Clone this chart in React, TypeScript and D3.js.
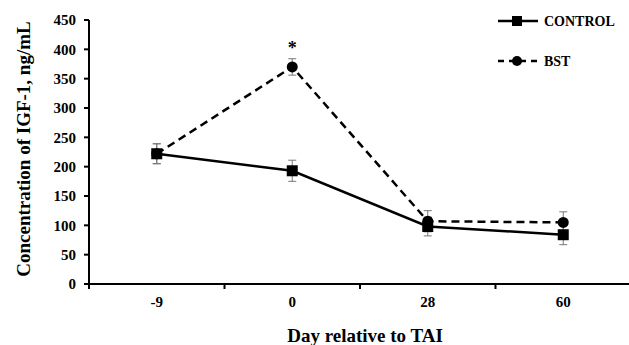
import React from "react";
import * as d3 from "d3";

const days = ["-9", "0", "28", "60"];
const controlMean = [222, 193, 98, 84];
const controlSe = [17, 18, 16, 17];
const bstMean = [222, 370, 107, 105];
const bstSe = [17, 14, 18, 18];
const yTicks = [0, 50, 100, 150, 200, 250, 300, 350, 400, 450];

const width = 629;
const height = 345;
const margin = { top: 20, right: -2, bottom: 61, left: 89 };
const font = "'Liberation Serif', 'Times New Roman', serif";

const x = d3
  .scaleBand()
  .domain(days)
  .range([margin.left, width - margin.right]);

const y = d3
  .scaleLinear()
  .domain([0, 450])
  .range([height - margin.bottom, margin.top]);

const cx = (d: string) => (x(d) ?? 0) + x.bandwidth() / 2;

const line = d3
  .line<number>()
  .x((_, i) => cx(days[i]))
  .y((v) => y(v));

function ErrorBars({ mean, se }: { mean: number[]; se: number[] }) {
  return (
    <g stroke="#777" strokeWidth={1}>
      {mean.map((m, i) => {
        const px = cx(days[i]);
        return (
          <g key={i}>
            <line x1={px} x2={px} y1={y(m - se[i])} y2={y(m + se[i])} />
            <line x1={px - 4} x2={px + 4} y1={y(m - se[i])} y2={y(m - se[i])} />
            <line x1={px - 4} x2={px + 4} y1={y(m + se[i])} y2={y(m + se[i])} />
          </g>
        );
      })}
    </g>
  );
}

export default function App() {
  const y0 = y(0);
  return (
    <svg
      width={width}
      height={height}
      style={{ position: "absolute", left: 0, top: 0, background: "#fff" }}
      fontFamily={font}
      fontWeight="bold"
    >
      {/* y axis */}
      <line x1={margin.left} x2={margin.left} y1={y(450)} y2={y0} stroke="#000" strokeWidth={2} />
      {yTicks.map((t) => (
        <g key={t}>
          <line x1={margin.left - 5} x2={margin.left} y1={y(t)} y2={y(t)} stroke="#000" strokeWidth={2} />
          <text x={margin.left - 13} y={y(t)} dy="0.35em" textAnchor="end" fontSize={15}>
            {t}
          </text>
        </g>
      ))}
      {/* x axis */}
      <line x1={margin.left - 5} x2={width} y1={y0} y2={y0} stroke="#000" strokeWidth={2} />
      {days.map((d) => (
        <g key={d}>
          <line x1={(x(d) ?? 0) + x.bandwidth()} x2={(x(d) ?? 0) + x.bandwidth()} y1={y0} y2={y0 + 5} stroke="#000" strokeWidth={2} />
          <text x={cx(d)} y={y0 + 23} textAnchor="middle" fontSize={15}>
            {d}
          </text>
        </g>
      ))}
      <line x1={margin.left} x2={margin.left} y1={y0} y2={y0 + 5} stroke="#000" strokeWidth={2} />

      <text x={365} y={342} textAnchor="middle" fontSize={19}>
        Day relative to TAI
      </text>
      <text transform={`translate(30,149) rotate(-90)`} textAnchor="middle" fontSize={19}>
        Concentration of IGF-1, ng/mL
      </text>

      <ErrorBars mean={controlMean} se={controlSe} />
      <ErrorBars mean={bstMean} se={bstSe} />

      <path d={line(bstMean) ?? ""} fill="none" stroke="#000" strokeWidth={2.5} strokeDasharray="8,5" />
      <path d={line(controlMean) ?? ""} fill="none" stroke="#000" strokeWidth={2.5} />

      {bstMean.map((v, i) => (
        <circle key={i} cx={cx(days[i])} cy={y(v)} r={5.5} fill="#000" />
      ))}
      {controlMean.map((v, i) => (
        <rect key={i} x={cx(days[i]) - 5.5} y={y(v) - 5.5} width={11} height={11} fill="#000" />
      ))}

      <text x={cx("0")} y={y(370) - 13} textAnchor="middle" fontSize={18}>
        *
      </text>

      {/* legend */}
      <line x1={498} x2={538} y1={21} y2={21} stroke="#000" strokeWidth={2.5} />
      <rect x={512} y={16} width={10} height={10} fill="#000" />
      <text x={544} y={21} dy="0.35em" fontSize={14}>
        CONTROL
      </text>
      <line x1={498} x2={538} y1={61} y2={61} stroke="#000" strokeWidth={2.5} strokeDasharray="6,5" />
      <circle cx={517} cy={61} r={5} fill="#000" />
      <text x={544} y={61} dy="0.35em" fontSize={14}>
        BST
      </text>
    </svg>
  );
}
